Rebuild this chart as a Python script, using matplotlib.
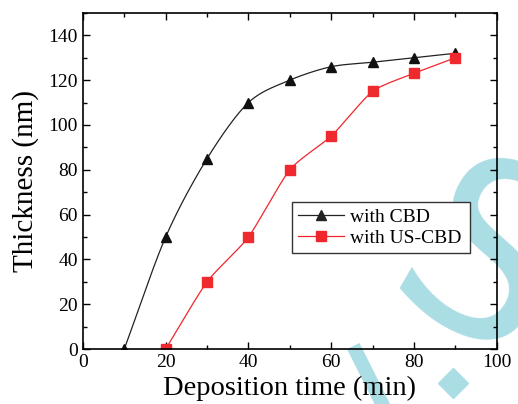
import numpy as np
import matplotlib.pyplot as plt
from matplotlib.lines import Line2D

plt.rcParams['font.family'] = ['Liberation Serif', 'DejaVu Serif']

time_cbd = [10, 20, 30, 40, 50, 60, 70, 80, 90]
thick_cbd = [0, 50, 85, 110, 120, 126, 128, 130, 132]
time_us = [20, 30, 40, 50, 60, 70, 80, 90]
thick_us = [0, 30, 50, 80, 95, 115, 123, 130]


def smooth(x, y, a=0.25, n=40):
    # bezier pieces through the points; a sets the handle length (1/3 = catmull-rom)
    x = np.asarray(x, float)
    y = np.asarray(y, float)
    m = np.gradient(y, x)
    m[0] = (y[1] - y[0]) / (x[1] - x[0])
    m[-1] = (y[-1] - y[-2]) / (x[-1] - x[-2])
    t = np.linspace(0, 1, n)[:, None]
    out = []
    for i in range(len(x) - 1):
        h = x[i + 1] - x[i]
        p0 = np.array([x[i], y[i]])
        p3 = np.array([x[i + 1], y[i + 1]])
        p1 = p0 + a * h * np.array([1, m[i]])
        p2 = p3 - a * h * np.array([1, m[i + 1]])
        out.append((1 - t) ** 3 * p0 + 3 * (1 - t) ** 2 * t * p1 + 3 * (1 - t) * t ** 2 * p2 + t ** 3 * p3)
    pts = np.vstack(out)
    return pts[:, 0], pts[:, 1]


fig = plt.figure(figsize=(5.18, 4.04), dpi=100)
ax = fig.add_axes([0.160, 0.136, 0.799, 0.832])
ax.patch.set_alpha(0)

# faint watermark behind the data
wm = '#abdde4'
fig.text(0.925, 0.32, 'S', color=wm, fontsize=175, rotation=-30, ha='center', va='center',
         family='DejaVu Sans', zorder=-1)
fig.add_artist(Line2D([0.688, 0.738], [0.128, 0.0], color=wm, lw=10, zorder=-1))
fig.add_artist(Line2D([0.874], [0.052], marker='D', ms=15, color=wm, ls='none', zorder=-1))

sx, sy = smooth(time_cbd, thick_cbd, a=0.3)
ax.plot(sx, sy, color='#222222', lw=0.9)
ax.plot(time_cbd, thick_cbd, ls='none', marker='^', color='#111111', ms=7)
ax.plot([], [], color='#222222', lw=0.9, marker='^', ms=7, label='with CBD')

sx, sy = smooth(time_us, thick_us, a=0.22)
ax.plot(sx, sy, color='#f0262c', lw=0.9)
ax.plot(time_us, thick_us, ls='none', marker='s', color='#ee2a2f', ms=7)
ax.plot([], [], color='#f0262c', lw=0.9, marker='s', ms=7, label='with US-CBD')

ax.set_xlim(0, 100)
ax.set_ylim(0, 150)
ax.set_xticks(range(0, 101, 20))
ax.set_xticks(range(0, 101, 10), minor=True)
ax.set_yticks(range(0, 141, 20))
ax.set_yticks(range(0, 151, 10), minor=True)
ax.tick_params(which='both', direction='in', top=True, right=True, labelsize=14, width=1)
ax.tick_params(which='major', length=5)
ax.tick_params(which='minor', length=3)
for s in ax.spines.values():
    s.set_linewidth(1.2)

ax.set_xlabel('Deposition time (min)', fontsize=20.5, labelpad=3.5)
ax.set_ylabel('Thickness (nm)', fontsize=21, labelpad=7)

leg = ax.legend(loc='lower left', bbox_to_anchor=(0.505, 0.286, 0.43, 0.163), mode='expand',
                fontsize=14, frameon=True, fancybox=False, edgecolor='#333333', framealpha=1,
                handlelength=2.4, handletextpad=0.3, borderpad=0.3, labelspacing=0.2,
                borderaxespad=0)
leg.get_frame().set_linewidth(1)

fig.savefig('out.png', dpi=100)
